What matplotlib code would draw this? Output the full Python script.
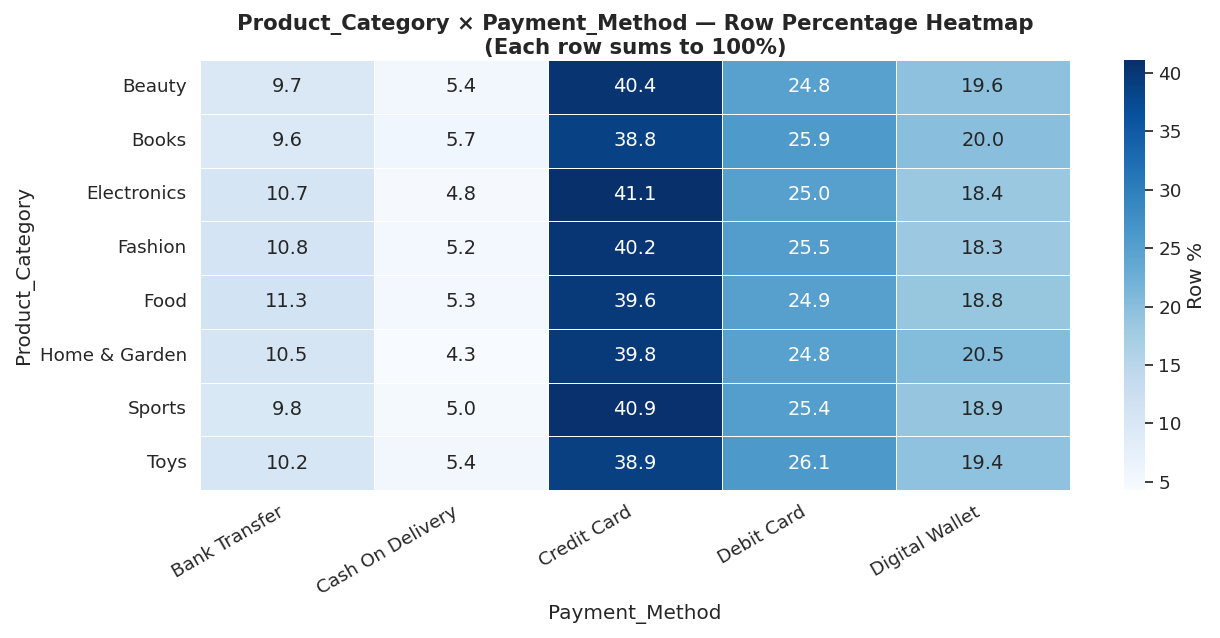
import matplotlib
matplotlib.use("Agg")
import matplotlib.pyplot as plt
import seaborn as sns
import pandas as pd

categories = ["Beauty", "Books", "Electronics", "Fashion", "Food", "Home & Garden", "Sports", "Toys"]
methods = ["Bank Transfer", "Cash On Delivery", "Credit Card", "Debit Card", "Digital Wallet"]
values = [
    [9.7, 5.4, 40.4, 24.8, 19.6],
    [9.6, 5.7, 38.8, 25.9, 20.0],
    [10.7, 4.8, 41.1, 25.0, 18.4],
    [10.8, 5.2, 40.2, 25.5, 18.3],
    [11.3, 5.3, 39.6, 24.9, 18.8],
    [10.5, 4.3, 39.8, 24.8, 20.5],
    [9.8, 5.0, 40.9, 25.4, 18.9],
    [10.2, 5.4, 38.9, 26.1, 19.4],
]

df = pd.DataFrame(values, index=categories, columns=methods)
df.index.name = "Product_Category"
df.columns.name = "Payment_Method"

sns.set_theme(style="white", font_scale=1.2)
fig = plt.figure(figsize=(12.2, 6.38), dpi=100)
ax = fig.add_axes([200/1220, 1-490/638, 870/1220, 430/638])
cax = fig.add_axes([1124/1220, 1-490/638, 21/1220, 430/638])
sns.heatmap(df, annot=True, fmt=".1f", cmap="Blues", linewidths=0.5, linecolor="white",
            annot_kws={"fontsize": 14}, cbar_ax=cax, cbar_kws={"label": "Row %"}, ax=ax)
ax.set_title("Product_Category × Payment_Method — Row Percentage Heatmap\n(Each row sums to 100%)",
             fontweight="bold", fontsize=15.3, pad=4)
plt.setp(ax.get_xticklabels(), rotation=30, ha="right")
plt.setp(ax.get_yticklabels(), rotation=0)
fig.savefig("out.png")
